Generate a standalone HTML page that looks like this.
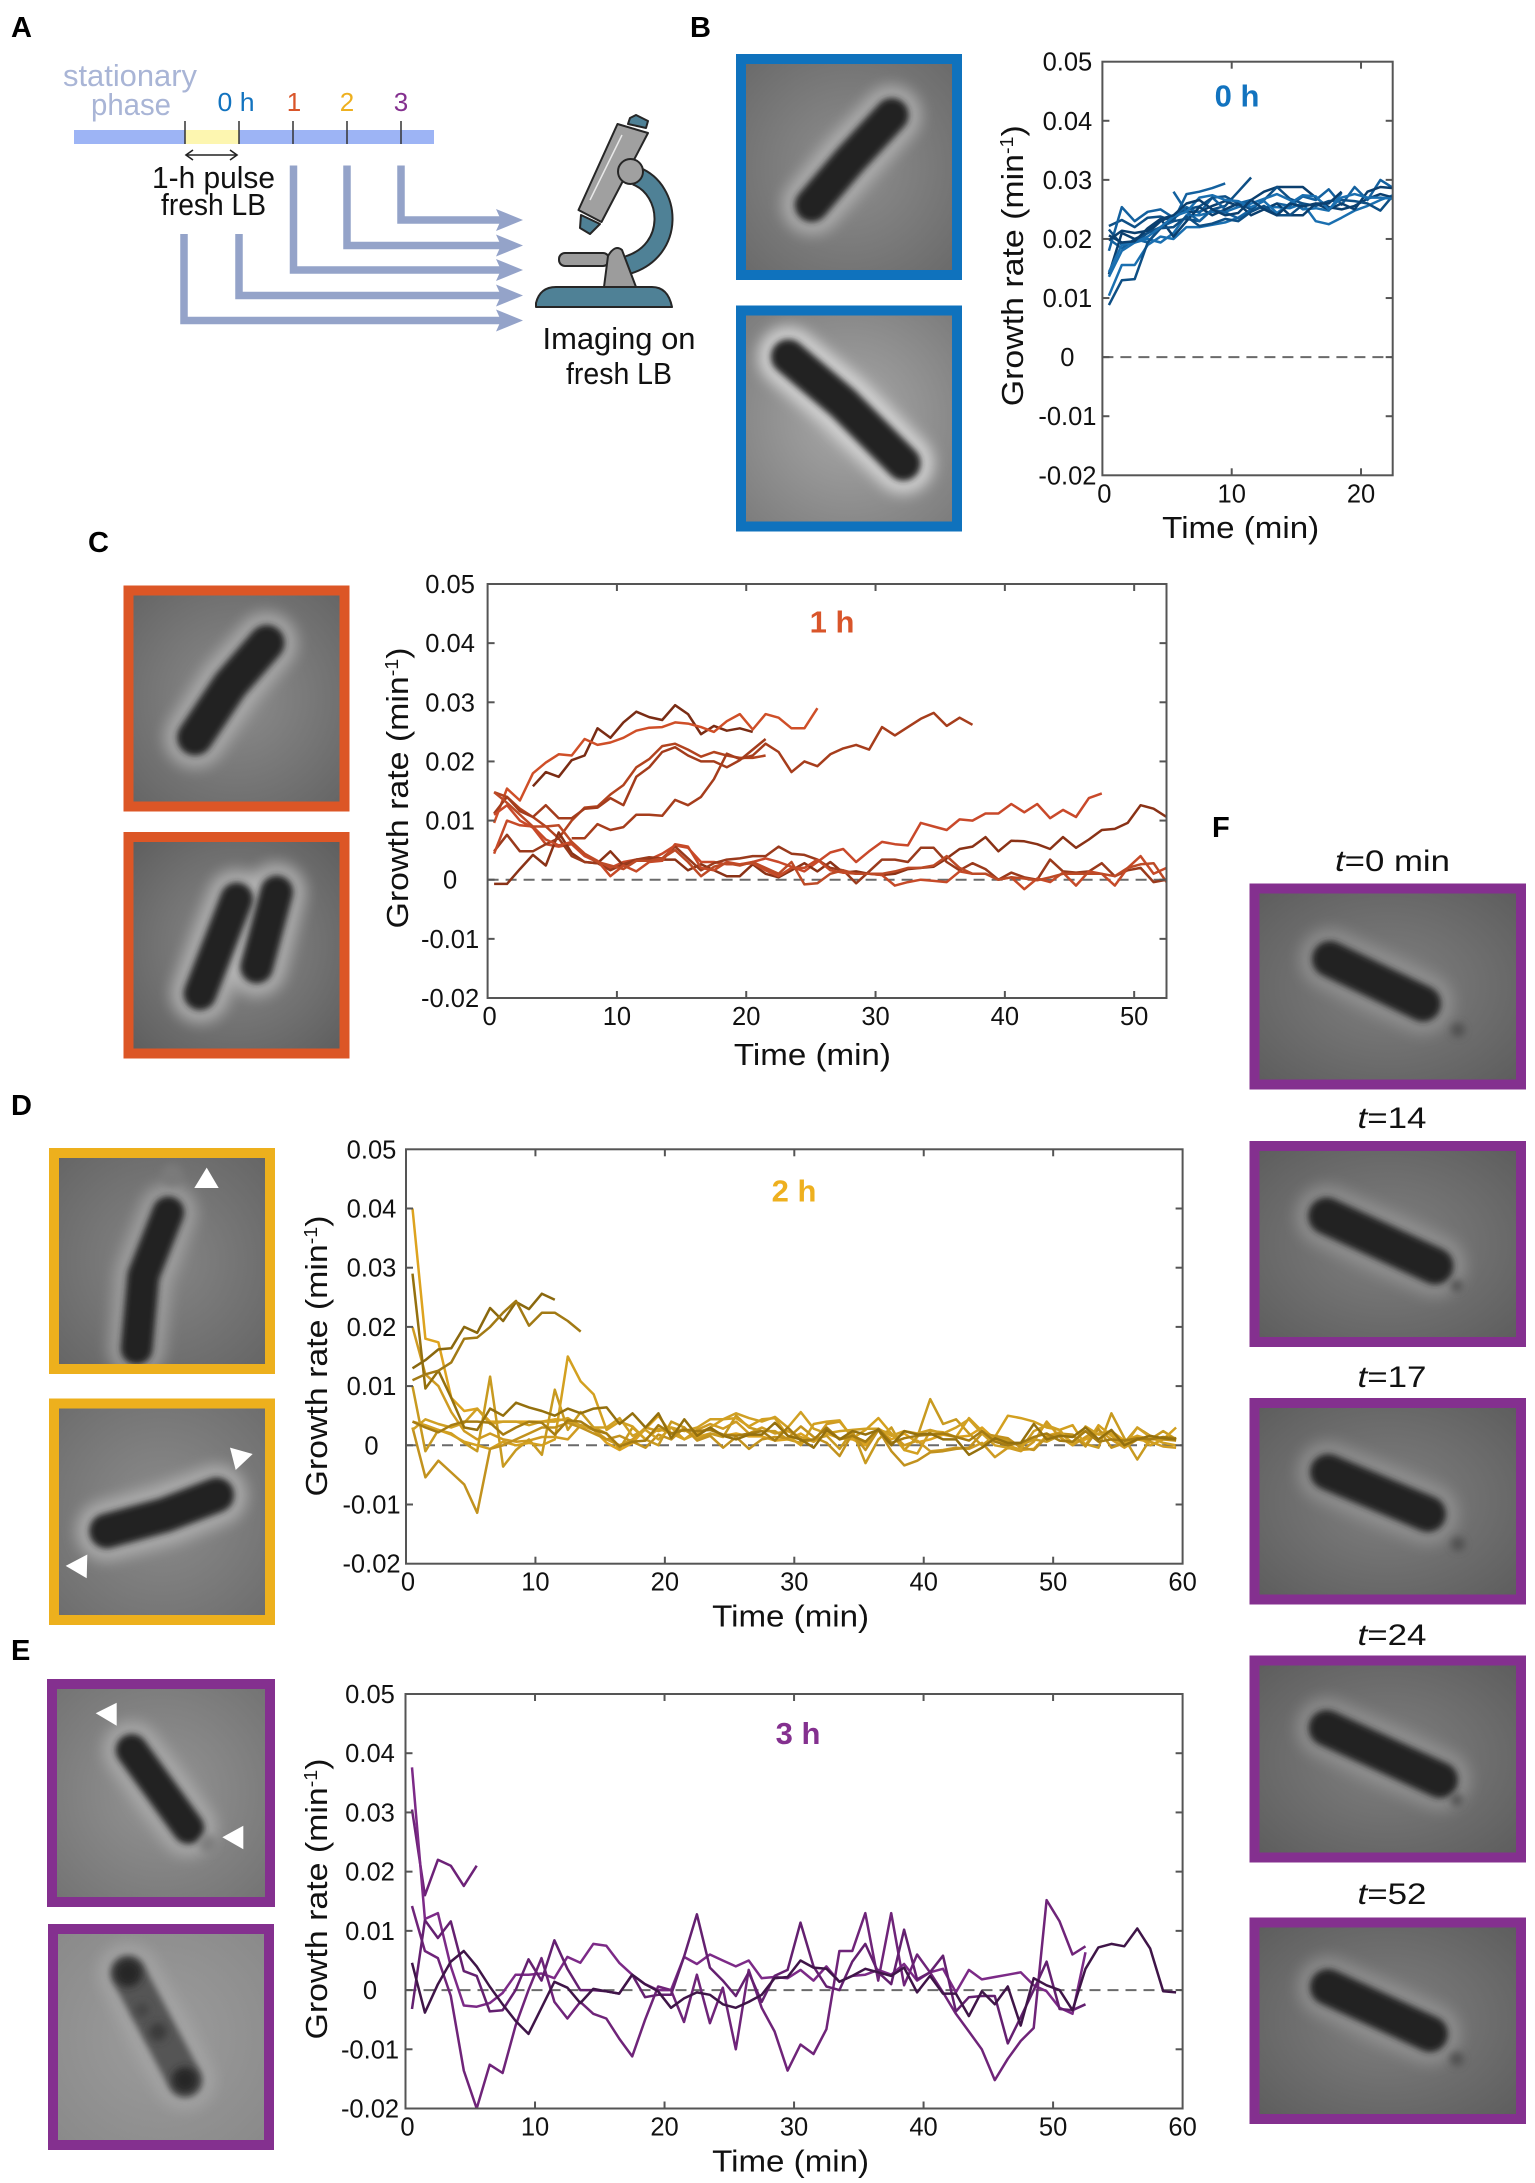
<!DOCTYPE html>
<html lang="en">
<head>
<meta charset="utf-8">
<title>Growth rate after stationary phase</title>
<style>
html,body{margin:0;padding:0;background:#fff;width:1535px;height:2183px;overflow:hidden}
svg{display:block}
text{font-family:"Liberation Sans",sans-serif;fill:#111}
</style>
</head>
<body>
<svg id="figure" xmlns="http://www.w3.org/2000/svg" width="1535" height="2183" viewBox="0 0 1535 2183">
<defs>
<filter id="blurRod" filterUnits="userSpaceOnUse" x="0" y="0" width="1535" height="2183"><feGaussianBlur stdDeviation="3.2"/></filter>
<filter id="blurHalo" filterUnits="userSpaceOnUse" x="0" y="0" width="1535" height="2183"><feGaussianBlur stdDeviation="7"/></filter>
<filter id="blurDot" filterUnits="userSpaceOnUse" x="0" y="0" width="1535" height="2183"><feGaussianBlur stdDeviation="4"/></filter>
</defs>

<g font-weight="700" font-size="29">
<text x="11" y="37" style="font-weight:700;fill:#000">A</text>
<text x="690" y="37" style="font-weight:700;fill:#000">B</text>
<text x="88" y="552" style="font-weight:700;fill:#000">C</text>
<text x="11" y="1115" style="font-weight:700;fill:#000">D</text>
<text x="11" y="1660" style="font-weight:700;fill:#000">E</text>
<text x="1212" y="837" style="font-weight:700;fill:#000">F</text>
</g>

<g id="schematic">
<text x="130" y="86" text-anchor="middle" font-size="31" textLength="134" lengthAdjust="spacingAndGlyphs" style="fill:#a9b5d6">stationary</text>
<text x="131" y="115" text-anchor="middle" font-size="31" textLength="80" lengthAdjust="spacingAndGlyphs" style="fill:#a9b5d6">phase</text>
<text x="236" y="111" text-anchor="middle" font-size="26" textLength="37" lengthAdjust="spacingAndGlyphs" style="fill:#1273bf">0 h</text>
<text x="294" y="111" text-anchor="middle" font-size="26" style="fill:#d9552a">1</text>
<text x="347" y="111" text-anchor="middle" font-size="26" style="fill:#eeb01f">2</text>
<text x="401" y="111" text-anchor="middle" font-size="26" style="fill:#84308f">3</text>
<rect x="74" y="130" width="360" height="14" fill="#9db4f5"/>
<rect x="185" y="130" width="54" height="14" fill="#fdf6b0"/>
<g stroke="#333" stroke-width="1.5">
<line x1="185" y1="121" x2="185" y2="144"/><line x1="239" y1="121" x2="239" y2="144"/><line x1="293" y1="121" x2="293" y2="144"/><line x1="347" y1="121" x2="347" y2="144"/><line x1="401" y1="121" x2="401" y2="144"/>
</g>
<g stroke="#222" stroke-width="1.6" fill="none">
<line x1="187" y1="155" x2="236" y2="155"/><path d="M193 150 L186 155 L193 160"/><path d="M230 150 L237 155 L230 160"/>
</g>
<text x="213.500" y="188" text-anchor="middle" font-size="31" textLength="123" lengthAdjust="spacingAndGlyphs">1-h pulse</text>
<text x="213.500" y="215" text-anchor="middle" font-size="31" textLength="105" lengthAdjust="spacingAndGlyphs">fresh LB</text>
<g fill="none" stroke="#94a3c9" stroke-width="7.500">
<path d="M401 165.500 V220 H505"/>
<path d="M347 165.500 V245.500 H505"/>
<path d="M293.500 165.500 V270 H505"/>
<path d="M239 234 V295.500 H505"/>
<path d="M184 234 V320.500 H505"/>
</g>
<g fill="#94a3c9">
<path d="M496 209 L523 220 L496 231 L501 220Z"/><path d="M496 234.500 L523 245.500 L496 256.500 L501 245.500Z"/><path d="M496 259 L523 270 L496 281 L501 270Z"/><path d="M496 284.500 L523 295.500 L496 306.500 L501 295.500Z"/><path d="M496 309.500 L523 320.500 L496 331.500 L501 320.500Z"/>
</g>
<g stroke="#262626" stroke-width="2" stroke-linejoin="round">
<path d="M636 176 C672 190 676 250 628 265" fill="none" stroke="#262626" stroke-width="20"/>
<path d="M636 176 C672 190 676 250 628 265" fill="none" stroke="#4f8196" stroke-width="16"/>
<rect x="559" y="253" width="50" height="13" rx="6" fill="#9c9c9c"/>
<path d="M604 287 L608 256 Q615 244 622 250 L636 287Z" fill="#9c9c9c"/>
<path d="M536 307 L536 303 Q540 287 556 287 L652 287 Q668 287 672 307Z" fill="#4f8196"/>
<path d="M630 118 L636 115 L648 121 L646 128 L628 124Z" fill="#4f8196"/>
<path d="M581 215 L600 224 L590 234 L580 228Z" fill="#4f8196"/>
<path d="M617.500 124 L648 133 L601.500 222 L578.500 210Z" fill="#a0a0a0"/>
<circle cx="630.500" cy="171.500" r="12.500" fill="#a0a0a0"/>
<path d="M622 135 L590 200" stroke="#e8e8e8" stroke-width="1.500" fill="none"/>
</g>
<text x="619" y="349" text-anchor="middle" font-size="31" textLength="153" lengthAdjust="spacingAndGlyphs">Imaging on</text>
<text x="619" y="384" text-anchor="middle" font-size="31" textLength="106" lengthAdjust="spacingAndGlyphs">fresh LB</text>
</g>

<g id="micrographs"></g>
<g id="charts"></g>

<g font-size="30" text-anchor="middle">
<text x="1392.500" y="871" textLength="115" lengthAdjust="spacingAndGlyphs"><tspan font-style="italic">t</tspan>=0 min</text>
<text x="1392" y="1128" textLength="69" lengthAdjust="spacingAndGlyphs"><tspan font-style="italic">t</tspan>=14</text>
<text x="1392" y="1387" textLength="69" lengthAdjust="spacingAndGlyphs"><tspan font-style="italic">t</tspan>=17</text>
<text x="1392" y="1645" textLength="69" lengthAdjust="spacingAndGlyphs"><tspan font-style="italic">t</tspan>=24</text>
<text x="1392" y="1904" textLength="69" lengthAdjust="spacingAndGlyphs"><tspan font-style="italic">t</tspan>=52</text>
</g>

<g fill="#fff">
<path d="M206.700 1167.600 L194.300 1188 L218.700 1188Z"/>
<path d="M230 1447.600 L252.700 1454 L235.700 1470Z"/>
<path d="M65.700 1565.900 L87.300 1554.500 L86.700 1578.300Z"/>
<path d="M95.700 1713.300 L116.700 1702.700 L116.700 1725.700Z"/>
<path d="M222.300 1837.300 L243.300 1825.700 L243.300 1849.300Z"/>
</g>
</svg>

<script>
/* ---------- chart data: growth rate in units of 0.001 per minute ---------- */
const yTickValues = [50, 40, 30, 20, 10, 0, -10, -20];
const yTickLabels = ['0.05', '0.04', '0.03', '0.02', '0.01', '0', '-0.01', '-0.02'];

const hour0XTicks = [0, 10, 20];
const hour1XTicks = [0, 10, 20, 30, 40, 50];
const hour2XTicks = [0, 10, 20, 30, 40, 50, 60];
const hour3XTicks = [0, 10, 20, 30, 40, 50, 60];

/* minute of each trace's first sample; samples are one minute apart */
const hour0Starts = [0.5, 0.5, 0.5, 0.5, 0.5, 0.5, 0.5, 0.5, 5.5, 0.5, 0.5, 0.5];
const hour0Series = [
  [20, 18.4, 20, 19.4, 22, 23, 27.6, 28, 28.6, 29.4],
  [22.2, 23.2, 22, 23.6, 23.8, 23, 23.4, 23, 25, 25.6, 28, 30.4],
  [10.4, 15.6, 15.6, 19, 20.4, 20, 22, 22, 22.4, 22.8, 23.6, 25, 25.4, 25.4, 25.2, 26, 23, 22.5, 23.6, 24.8, 25.6, 26.6, 27.4],
  [14, 21, 20, 21, 23, 24, 24.6, 24.6, 25.6, 26.4, 25.6, 26.6, 28, 28.8, 28.8, 28.8, 27, 25.4, 25, 25.6, 26.8, 27.6, 27],
  [18, 25.4, 23, 24.6, 25, 23.6, 25.4, 24.4, 27, 25, 26, 26.6, 25, 26, 25.6, 27.2, 26.6, 28.4, 25.8, 28.8, 26.6, 30, 28.6],
  [21.6, 19, 19.4, 21, 22, 23.5, 25, 25.5, 27, 27.2, 26, 25, 26.6, 28.8, 26.8, 26, 25.6, 26.4, 26.6, 26.4, 26, 24.8, 27.4],
  [13.6, 18, 19.4, 20, 19.4, 21, 24, 24, 24.6, 24.6, 25.4, 26, 26.8, 27.6, 26.6, 25, 25.2, 24.8, 27.8],
  [19.8, 21.4, 21, 21.4, 23.4, 20.4, 23, 25.4, 24, 25, 26, 24, 25, 26, 24, 24, 26, 25, 26, 25, 28, 28.8, 28.6],
  [28, 24.6, 23, 25, 24.5, 23.5, 24.8],
  [8.8, 13, 13.2, 19.4, 21.8, 22, 23.8, 22.2, 22.6, 23.4, 23, 24.6, 25.6, 24, 24, 25.8],
  [14.4, 19, 19.4, 20.4, 22, 23.8, 24.6, 27, 27.4, 26.6, 26.4, 25.4, 26.4, 24.4, 26, 27.4, 27.2, 25, 27, 27.6, 27, 27, 26.8],
  [20.6, 19.4, 19.6, 21.8, 23.4, 24, 26, 26.6, 25, 24, 24.4, 26.6, 25, 24, 26, 25.5, 26, 26, 28]
];

const hour1Starts = [3.5, 0.5, 0.5, 0.5, 6.5, 0.5, 0.5, 0.5, 0.5, 0.5];
const hour1Series = [
  [15.8, 18.2, 17.4, 20.2, 21, 25.6, 24, 26.6, 28.4, 27.5, 27, 29.5, 28, 24.6, 26, 25.2, 25.6, 25],
  [9.6, 15.4, 13.4, 18, 19.8, 21.2, 21, 23.8, 22.8, 23.2, 24, 25.2, 25.7, 25.8, 26.6, 26.4, 25.8, 25, 26.8, 28, 25.4, 28, 27.4, 25.6, 25.6, 29],
  [14.8, 14, 12, 10.6, 9, 7, 10, 12.2, 12.4, 14.4, 16, 19, 20.4, 22.6, 23, 22, 20.8, 21.6, 21, 20.6, 20.6, 21],
  [11.2, 14, 11.6, 10.6, 12.6, 10.4, 10.4, 12, 12.2, 13.8, 12.6, 17.4, 19, 21.6, 22.4, 21, 20, 20, 19, 20.2, 22, 23.8],
  [7, 7, 9.4, 8.4, 8.9, 11, 11, 10.8, 13.5, 12.6, 14, 17, 21.3, 20.4, 21, 23, 21.6, 18.2, 20, 19.2, 21.2, 22.2, 22.8, 22, 25.8, 24.4, 25.8, 27.2, 28.2, 26, 27.4, 26.2],
  [11, 12.6, 10, 8.8, 6, 5.6, 6, 4, 3, 2, 3, 3.4, 3.4, 4.4, 5.8, 5.4, 3, 3, 2.6, 2.6, 3, 3.6, 3, 2.2, 1.4, 3, 4.6, 5.2, 3, 4.8, 6.4, 6, 5.8, 9.6, 9, 8.4, 10.2, 10, 11.2, 11.2, 12.8, 11.4, 12.8, 10.4, 11.8, 10.6, 13.8, 14.6],
  [-0.7, -0.7, 1.8, 4.2, 2.4, 8, 4.5, 3, 2.8, 4.8, 2.4, 3.4, 3.6, 3.4, 3.4, 1.6, 2.6, 1.6, 0.6, 0.6, 2.6, 1, 0.4, 1.6, 2.8, 1.4, 3, 1.2, 1.4, 1, 0.8, 1, 1.8, 2, 2.2, 3.6, 5.2, 5.6, 7.2, 4.8, 6.6, 6.5, 6, 5.2, 7.2, 5.4, 6.8, 8.4, 8.6, 9.6, 12.6, 12, 10.6],
  [4.8, 7.6, 4.8, 4.8, 6, 7, 4, 3, 2.8, 1.6, 2.6, 3.4, 3.8, 3.6, 5.6, 3.6, 1.6, 2.8, 3.4, 3.6, 4, 4, 5.6, 4.4, 4.2, 3.4, 2, 1.6, -0.6, 1.4, 3.4, 3.4, 3, 5.4, 5.4, 3, 1.6, 2.8, 1.8, 0, 1.2, 0.4, 0, 3.4, 1.4, 1.2, 1.4, 2.8, 0.6, 1.6, 2, -0.4, 0],
  [4.4, 10, 9.2, 9, 6.8, 5.8, 6.4, 4.4, 3.2, 0.6, 2.4, 1.4, 3, 3.2, 6, 5.6, 2, 1.6, 3, 2.6, 2.8, 1.6, 0.6, 2, 2, 3.4, 1.6, 1.2, 1, 1, 0.8, -1, -0.4, 0, -0.2, -0.4, 1.4, 1, 1, 0, 0.4, -1.6, 0.2, -0.4, 1.2, -1, 1.4, 1, -1, 2, 4, 1, 2],
  [14.8, 13, 11, 9, 9, 9.2, 6.4, 4.4, 3, 2.4, 1.8, 3.2, 3.2, 3.6, 5, 3, 0.6, 2.2, 2.8, 2.4, 3, 2, 1, 3, -0.8, -0.6, 1, 1.6, 1, 1, 1, 1.4, 2, 2, 2.4, 4, 2, 1, 1, 0, 0.4, 0.2, -0.1, 0.4, 1, 1, 1, 1, 0.6, 2, 2.6, 2.8, -0.4]
];

const hour2Starts = [0.5, 0.5, 0.5, 0.5, 0.5, 0.5, 0.5, 0.5, 0.5, 0.5];
const hour2Series = [
  [40, 18, 17.4, 8, 5.8, 6.2, 4, 4, 4, 4, 4, 4.4, 4.2, 3.4, 2.6, 0.4, -0.8, 0.4, 2.8, 5, 2, 2.6, 1.4, 2, 1.6, 2, 1.5, 1.5, 0.8, 1, 2, 0.6, 2, 1.2, 1, 0, 2.6, 1, 2, 0.5, 1, 1.8, 1.4, 1.6, 3, 1, 0, -0.8, -0.6, 1.6, 2.2, 0.4, 1, 2, 2.4, 0.8, 1.6, 1, 1, 1],
  [20, 12, 10, 5.6, 2.4, 1, 2, 1, 0.6, 0.8, 1.4, 1.4, 1, 3.4, 2.6, 1, 0, 1, 3, 2.4, 3, 1, 2.6, 3.6, 2.8, 4, 2, 3, 2, 2.4, 1.4, 0.6, 3.6, 4, 1.4, 0.4, 2.6, 2, 0, 0.8, -1, -0.8, -0.4, -0.6, 0.4, -2, -0.4, -1, 0.6, 4, 1.4, 0, 1.4, 2.6, 1, -0.4, 1, 0.6, -0.2, -0.4],
  [10, -1, 2.6, 2, 0.4, -1, 11.6, -3.6, -0.8, 1, -1.6, 9.4, 2.6, 5.6, 3, 2, -0.6, 3, 1, 0, 4, 3, 1, 2, 1.4, 5, 3, 2.4, 2.4, 1, 0.4, 1, 1.6, -0.6, 2.4, -3, 1, 3, -0.8, 1.4, 7.8, 3.6, 4.4, 2, 0, 1.6, 0.8, 0, 1, 0.6, 1.6, 1.6, 0.2, -0.4, 5.4, 1.2, -2.4, 1, 2.4, 1],
  [4, 3.4, 2.6, 1.8, 0.6, 0, -0.6, 0.6, 0, 0.4, 0, 1, 15, 10.8, 8.6, 2.6, 4, 3.2, 1, 2.8, 2, 1, 2, 3, 4.4, 4.6, 3.2, 4.4, 4.6, 1.6, 0, 3.6, 4, 4.2, 1.2, 2.6, 4.6, 2, -0.8, -1.4, 2.4, 2.2, 1.4, 4.6, 2.4, 1.4, 5, 4.6, 4, 3, 2.6, 3.4, 0, 3.4, 1.6, 0, 1.6, 0, 1, 3],
  [3, -5.4, -2.6, -4.6, -6.6, -11.4, -0.6, 0, 1, 2, 3, 3, 3.8, 3, 2, 1, 1.6, 0.6, -0.4, 1.8, 1, 3, 0.8, 1.6, -0.4, 1.4, -0.6, 1, 1.4, 1.2, 3.2, 1.4, 0.4, -1.8, 2, -0.8, 2.6, -1, -3.4, -2.6, -1.2, -1, -0.6, -0.4, 2, 1.6, 1.2, -0.4, -0.8, 1.4, 2, 1.8, -0.2, 2.8, -0.4, 0.4, 3, 1.6, 1, 0.8],
  [2.6, 4.4, 3.6, 3, 3.8, 6.2, 3.6, 4, 4, 3.4, 4, 4, 4.6, 3.2, 3, 3, 4.6, 1.6, 2.6, 1, 3, 2.4, 3, 4.4, 4.4, 5.4, 4.6, 4, 4.8, 3, 5.6, 2.8, 2, 2.4, 2.6, 2.8, 2.8, 1.6, 2.4, 2, 2.6, 2, 3, 4.4, 2, 0, -0.4, -0.6, 2.4, 3.4, 2.6, 0, 3.2, 1.8, 2, 0, 3, 1.4, 0.4, 0],
  [4, 3, 2.2, 3.4, 4, 4, 3.8, 1.8, 3, 4, 3.8, 1.8, 4.2, 4, 2.6, 2, -0.2, 0.6, 0.8, 3.4, 2, 2.6, 2.4, 2.6, 1.8, 1.6, 2, 2.4, 0.8, 3, 0.8, 1, 3, 1, 1.6, 0.6, 2.8, 0.4, 1.2, 1.6, 1.8, 2, 1.4, 0.8, 2.4, 0.6, 0, 0.4, 1.4, 2, 0.8, 0.6, 2.4, 0.6, 1, 0.8, 1.2, 1, 1.4, 1.2],
  [29, 9.6, 12.6, 8, 3, 2.6, 6.2, 5, 7.2, 6.4, 5.8, 5, 6.2, 5.4, 6.2, 6.4, 3.6, 5.4, 3, 5.4, 1.2, 4.4, 1.6, 3, 1.6, 1, 1.8, 1.8, 3.8, 1.6, 1, -0.4, 2.6, 1, 2.4, 1.8, 2.6, 0, 2.4, 1.8, 2, 1, 1, -1.6, -0.4, 1.2, 0.4, 0.4, 3.6, 1, 1.6, 1.4, 3, 1, 2.6, 0, 1, 1.6, 1.2, 1],
  [13, 14.4, 16.2, 16.4, 20, 19, 23.2, 21, 24.2, 23, 25.6, 24.6],
  [11, 12, 12.6, 14, 18, 18.2, 20, 22.4, 24.4, 20.2, 22.4, 22.4, 21, 19.2]
];

const hour3Starts = [0.5, 0.5, 0.5, 0.5, 0.5];
const hour3Series = [
  [30.5, 16, 22, 21, 17.6, 21],
  [37.6, 12, 13, 4, -2.6, -2.8, -2.2, -0.5, 2.6, 2.6, 2.8, 2, 5.6, 4.6, 7.8, 7.5, 4.6, 2.6, 1, 0, 0, 5.6, 4.4, 6, 5, 4, 5, 2, 2.2, 2, 3.4, 1.6, 4, 1.4, 2.4, 2.6, 3.4, 2.6, 4.4, 1.6, 3, 3.6, -0.4, 3.4, 1.8, 2.2, 2.6, 3, 0.8, -0.2, -3, -4, 6.4],
  [14.2, 6.6, 5.4, -1, -13.6, -20, -12.6, -14, -6, 0, 5.4, -2, -4.8, -2, -4, -4.8, -8.2, -11.2, -5, 0.6, 0, -5.4, 2.6, -5.6, 0.4, -10, 3.4, -3, -7, -13.6, -9.2, -10.8, -6.6, 6.6, 6.6, 13, 1.6, 13, 0.8, 6, 3, -0.4, -4, -7, -10, -15.2, -11.6, -8.6, -6.4, 15.2, 11.6, 6, 7.4],
  [-3.2, 11.8, 8.8, 11.6, 3.2, 2.4, -3.6, -3.4, 0, 5.2, 1.6, 8.4, 3.6, 0, 0, -0.2, -0.6, 2.6, -1.2, -0.8, -0.8, 5.6, 12.8, 3.8, 1.6, -1, 3, -2, 2.4, 3.4, 11.4, 4, 0.6, 0, 4.8, 7.8, 3, 1, 10.2, 1.8, 3, 5.8, -3.6, -1.2, -1, -1, -9, -4.6, 0, 4.8, -3.2, -3.4, -2.4],
  [4.6, -3.8, 1, 4.8, 6.6, 4, 0.6, -2.4, -5.2, -7.4, -3, 1.4, 0.4, -2.2, 0.2, -0.2, -0.6, 2.6, 1, -0.2, -3, -1.4, -0.4, -0.8, -2.4, -3, -2, -0.8, 2, 2.2, 5, 3.8, 3.6, 1.4, 2.4, 3.6, 3, 2.4, 3.8, -0.4, 2.4, -0.6, -0.6, -4.4, -0.2, -2.4, 0.6, -6, 2, 0.8, 0, -3.4, 3.6, 7.2, 7.8, 7.4, 10.4, 7, -0.2, -0.4]
];

/* ---------- drawing ---------- */
const SVGNS = 'http://www.w3.org/2000/svg';
const chartsRoot = document.getElementById('charts');
const cellsRoot = document.getElementById('micrographs');
const defsEl = document.querySelector('#figure defs');

function svgEl(tag, parent, attrs) {
  const el = document.createElementNS(SVGNS, tag);
  for (const k in attrs) el.setAttribute(k, attrs[k]);
  parent.appendChild(el);
  return el;
}

function drawChart(cfg) {
  const g = svgEl('g', chartsRoot, {});
  
  

  const xScale = t => cfg.left + (t - 0) * (cfg.right - cfg.left) / cfg.xMax;
  const yScale = v => cfg.top + (50 - v) * (cfg.bottom - cfg.top) / 70;

  const clipId = cfg.name + '-clip';
  const cp = svgEl('clipPath', defsEl, { id: clipId });
  svgEl('rect', cp, { x: cfg.left, y: cfg.top, width: cfg.right - cfg.left, height: cfg.bottom - cfg.top });

  /* zero reference line */
  const zero = svgEl('line', g, { x1: cfg.left, x2: cfg.right, y1: yScale(0), y2: yScale(0), stroke: '#6a6a6a', 'stroke-width': 2, 'stroke-dasharray': '11 7' });
  
  

  /* series */
  const lines = svgEl('g', g, { 'clip-path': 'url(#' + clipId + ')', fill: 'none', 'stroke-width': 2.5, 'stroke-linejoin': 'round' });
  
  
  cfg.series.forEach((vals, i) => {
    const pts = vals.map((v, k) => xScale(cfg.starts[i] + k).toFixed(1) + ',' + yScale(v).toFixed(1)).join(' ');
    const line = svgEl('polyline', lines, { points: pts, stroke: cfg.shades[i % cfg.shades.length] });
    
    
  });

  /* frame */
  const frame = svgEl('rect', g, { x: cfg.left, y: cfg.top, width: cfg.right - cfg.left, height: cfg.bottom - cfg.top, fill: 'none', stroke: '#555', 'stroke-width': 2 });
  
  

  /* y ticks */
  yTickValues.forEach((v, i) => {
    const y = yScale(v);
    if (i > 0 && i < yTickValues.length - 1) {
      svgEl('line', g, { x1: cfg.left, x2: cfg.left + 7, y1: y, y2: y, stroke: '#555', 'stroke-width': 2 });
      svgEl('line', g, { x1: cfg.right - 7, x2: cfg.right, y1: y, y2: y, stroke: '#555', 'stroke-width': 2 });
    }
    const t = svgEl('text', g, { x: cfg.left - cfg.tickOffset, y: y + 9, 'text-anchor': 'middle', 'font-size': 25.5 });
    
    
    t.textContent = yTickLabels[i];
  });

  /* x ticks */
  cfg.xTicks.forEach(v => {
    const x = xScale(v);
    if (v > 0 && v < cfg.xMax) {
      svgEl('line', g, { x1: x, x2: x, y1: cfg.bottom - 7, y2: cfg.bottom, stroke: '#555', 'stroke-width': 2 });
      svgEl('line', g, { x1: x, x2: x, y1: cfg.top, y2: cfg.top + 7, stroke: '#555', 'stroke-width': 2 });
    }
    const t = svgEl('text', g, { x: x + (v === 0 ? 2 : 0), y: cfg.bottom + 27, 'text-anchor': 'middle', 'font-size': 25.5 });
    
    
    t.textContent = String(v);
  });

  /* x title */
  const xt = svgEl('text', g, { x: cfg.xTitleX, y: cfg.xTitleY, 'text-anchor': 'middle', 'font-size': 31, textLength: 157, lengthAdjust: 'spacingAndGlyphs' });
  
  
  xt.textContent = 'Time (min)';

  /* y title */
  const yt = svgEl('text', g, { x: cfg.yTitleX, y: cfg.yTitleY, 'text-anchor': 'middle', 'font-size': 31, textLength: 281, lengthAdjust: 'spacingAndGlyphs', transform: 'rotate(-90 ' + cfg.yTitleX + ' ' + cfg.yTitleY + ')' });
  
  
  const s1 = svgEl('tspan', yt, {}); s1.textContent = 'Growth rate (min';
  const s2 = svgEl('tspan', yt, { dy: -10, 'font-size': 18 }); s2.textContent = '-1';
  const s3 = svgEl('tspan', yt, { dy: 10 }); s3.textContent = ')';

  /* condition title */
  const ct = svgEl('text', g, { x: cfg.titleX, y: cfg.titleY, 'text-anchor': 'middle', 'font-size': 31, 'font-weight': 700 });
  ct.style.fill = cfg.color;
  
  
  ct.textContent = cfg.title;
}

drawChart({ name: 'chart-0h', title: '0 h', color: '#1273bf', left: 1102.4, right: 1392.7, top: 61.7, bottom: 475.3, xMax: 22.45,
  xTicks: hour0XTicks, starts: hour0Starts, series: hour0Series, tickOffset: 35, shades: ['#14619f', '#0e4f85', '#1a6fb0', '#0b3f6e'],
  titleX: 1237, titleY: 106.5, xTitleX: 1240.7, xTitleY: 538, yTitleX: 1023, yTitleY: 265.7 });
drawChart({ name: 'chart-1h', title: '1 h', color: '#d9552a', left: 487.6, right: 1166.5, top: 584, bottom: 998, xMax: 52.5,
  xTicks: hour1XTicks, starts: hour1Starts, series: hour1Series, tickOffset: 37.5, shades: ['#7a2c14', '#cf4f28', '#b2431f', '#a33c1c', '#a63d1c', '#c9492a', '#8a3216', '#9a3a1c', '#c64a28', '#bd4a26'],
  titleX: 832, titleY: 632.7, xTitleX: 812.4, xTitleY: 1065, yTitleX: 408, yTitleY: 788 });
drawChart({ name: 'chart-2h', title: '2 h', color: '#eeb01f', left: 406, right: 1182.6, top: 1149.3, bottom: 1563.7, xMax: 60,
  xTicks: hour2XTicks, starts: hour2Starts, series: hour2Series, tickOffset: 34.5, shades: ['#dda31f', '#cf9b22', '#c89a20', '#d3a020', '#c2921e', '#d0a024', '#a67c12', '#94700e', '#8a680e', '#a27a14'],
  titleX: 794, titleY: 1201.7, xTitleX: 790.6, xTitleY: 1626.7, yTitleX: 327, yTitleY: 1356 });
drawChart({ name: 'chart-3h', title: '3 h', color: '#84308f', left: 405.5, right: 1182.6, top: 1694, bottom: 2108.5, xMax: 60,
  xTicks: hour3XTicks, starts: hour3Starts, series: hour3Series, tickOffset: 35.5, shades: ['#6d2278', '#7c2a87', '#6f2479', '#642070', '#3f1548'],
  titleX: 798, titleY: 1744, xTitleX: 790.6, xTitleY: 2171.7, yTitleX: 327, yTitleY: 1899 });

/* ---------- phase-contrast style micrographs ---------- */
const BLUE = '#0f72bd', ORANGE = '#dc5626', YELLOW = '#edb01d', PURPLE = '#84308f';
function drawCell(c, idx) {
  const g = svgEl('g', cellsRoot, {});
  
  
  const gid = 'cellbg' + idx, cid = 'cellclip' + idx;
  const grad = svgEl('radialGradient', defsEl, { id: gid, cx: '50%', cy: '50%', r: '70%' });
  svgEl('stop', grad, { offset: '0%', 'stop-color': c.bg[0] });
  svgEl('stop', grad, { offset: '100%', 'stop-color': c.bg[1] });
  const clip = svgEl('clipPath', defsEl, { id: cid });
  svgEl('rect', clip, { x: c.x + 10, y: c.y + 10, width: c.w - 20, height: c.h - 20 });
  const fr = svgEl('rect', g, { x: c.x, y: c.y, width: c.w, height: c.h, fill: c.border });
  
  
  svgEl('rect', g, { x: c.x + 10, y: c.y + 10, width: c.w - 20, height: c.h - 20, fill: 'url(#' + gid + ')' });
  const inner = svgEl('g', g, { 'clip-path': 'url(#' + cid + ')', fill: 'none', 'stroke-linecap': 'round', 'stroke-linejoin': 'round' });
  c.rods.forEach(r => {
    svgEl('polyline', inner, { points: r, stroke: c.halo, 'stroke-width': c.width + 26, filter: 'url(#blurHalo)', opacity: c.haloOp });
  });
  c.rods.forEach(r => {
    svgEl('polyline', inner, { points: r, stroke: c.rod || '#242424', 'stroke-width': c.width, filter: 'url(#blurRod)' });
  });
  (c.spots || []).forEach(s => {
    svgEl('circle', inner, { cx: s[0], cy: s[1], r: s[2], fill: s[3], filter: 'url(#blurDot)' });
  });
}

[
  { name: 'micrograph-0h-top', x: 736, y: 54, w: 226, h: 226, border: BLUE, bg: ['#8e8e8e', '#6b6b6b'], halo: '#bcbcbc', haloOp: .7, width: 34, rods: ['811.7,205 850,160 891.7,115'] },
  { name: 'micrograph-0h-bottom', x: 736, y: 305.5, w: 226, h: 226, border: BLUE, bg: ['#a8a8a8', '#7d7d7d'], halo: '#dcdcdc', haloOp: .85, width: 35, rods: ['788.3,356.7 843,403 903.3,463.3'] },
  { name: 'micrograph-1h-top', x: 123.5, y: 585.5, w: 226, h: 226, border: ORANGE, bg: ['#8c8c8c', '#666666'], halo: '#b8b8b8', haloOp: .7, width: 36, rods: ['195,737.5 230,685 266.7,642.8'] },
  { name: 'micrograph-1h-bottom', x: 123.5, y: 832, w: 226, h: 226.5, border: ORANGE, bg: ['#8a8a8a', '#5f5f5f'], halo: '#bcbcbc', haloOp: .75, width: 33, rods: ['200,993.7 236.7,899', '256.7,967 276.7,892'] },
  { name: 'micrograph-2h-top', x: 49, y: 1148, w: 226, h: 226, border: YELLOW, bg: ['#858585', '#666666'], halo: '#adadad', haloOp: .65, width: 32, rods: ['136.7,1348.6 143.3,1276 168.3,1212.4'], spots: [[172, 1175, 11, '#7a7a7a']] },
  { name: 'micrograph-2h-bottom', x: 49, y: 1398.5, w: 226, h: 226.5, border: YELLOW, bg: ['#8c8c8c', '#6e6e6e'], halo: '#bcbcbc', haloOp: .7, width: 35, rods: ['106.7,1531 165,1515 216.7,1495'] },
  { name: 'micrograph-3h-top', x: 47, y: 1679, w: 228, h: 228, border: PURPLE, bg: ['#949494', '#747474'], halo: '#b2b2b2', haloOp: .7, width: 32, rods: ['131.7,1750 188.3,1828'], spots: [[208, 1844, 9, '#7e7e7e']] },
  { name: 'micrograph-3h-bottom', x: 48, y: 1924, w: 226, h: 226, border: PURPLE, bg: ['#9c9c9c', '#8a8a8a'], halo: '#ababab', haloOp: .6, width: 35, rod: '#555', rods: ['128,1973 185,2080'], spots: [[128, 1973, 14, '#262626'], [185, 2080, 13, '#262626'], [158, 2032, 9, '#3a3a3a'], [142, 2010, 7, '#444']] },
  { name: 'micrograph-time-0', x: 1249.5, y: 883.5, w: 276.5, h: 206, border: PURPLE, bg: ['#808080', '#5e5e5e'], halo: '#a0a0a0', haloOp: .55, width: 36, rods: ['1330,959 1423,1003.6'], spots: [[1458, 1030, 7, '#4f4f4f']] },
  { name: 'micrograph-time-14', x: 1249.5, y: 1141, w: 276.5, h: 206, border: PURPLE, bg: ['#808080', '#5e5e5e'], halo: '#a0a0a0', haloOp: .55, width: 37, rods: ['1326.7,1216 1435,1266'], spots: [[1456.7, 1285.7, 6, '#4f4f4f']] },
  { name: 'micrograph-time-17', x: 1249.5, y: 1398, w: 276.5, h: 206.5, border: PURPLE, bg: ['#808080', '#5e5e5e'], halo: '#a0a0a0', haloOp: .55, width: 36, rods: ['1328,1472 1428,1514'], spots: [[1458, 1544, 7, '#4f4f4f']] },
  { name: 'micrograph-time-24', x: 1249.5, y: 1655.5, w: 276.5, h: 207, border: PURPLE, bg: ['#808080', '#5e5e5e'], halo: '#a0a0a0', haloOp: .55, width: 36, rods: ['1326.7,1728 1440,1780'], spots: [[1456.7, 1800, 6, '#4f4f4f']] },
  { name: 'micrograph-time-52', x: 1249.5, y: 1917.5, w: 276.5, h: 206.5, border: PURPLE, bg: ['#808080', '#5e5e5e'], halo: '#a0a0a0', haloOp: .55, width: 36, rods: ['1328,1987 1430,2034'], spots: [[1456.7, 2059, 7, '#4f4f4f']] }
].forEach(drawCell);
</script>
</body>
</html>
